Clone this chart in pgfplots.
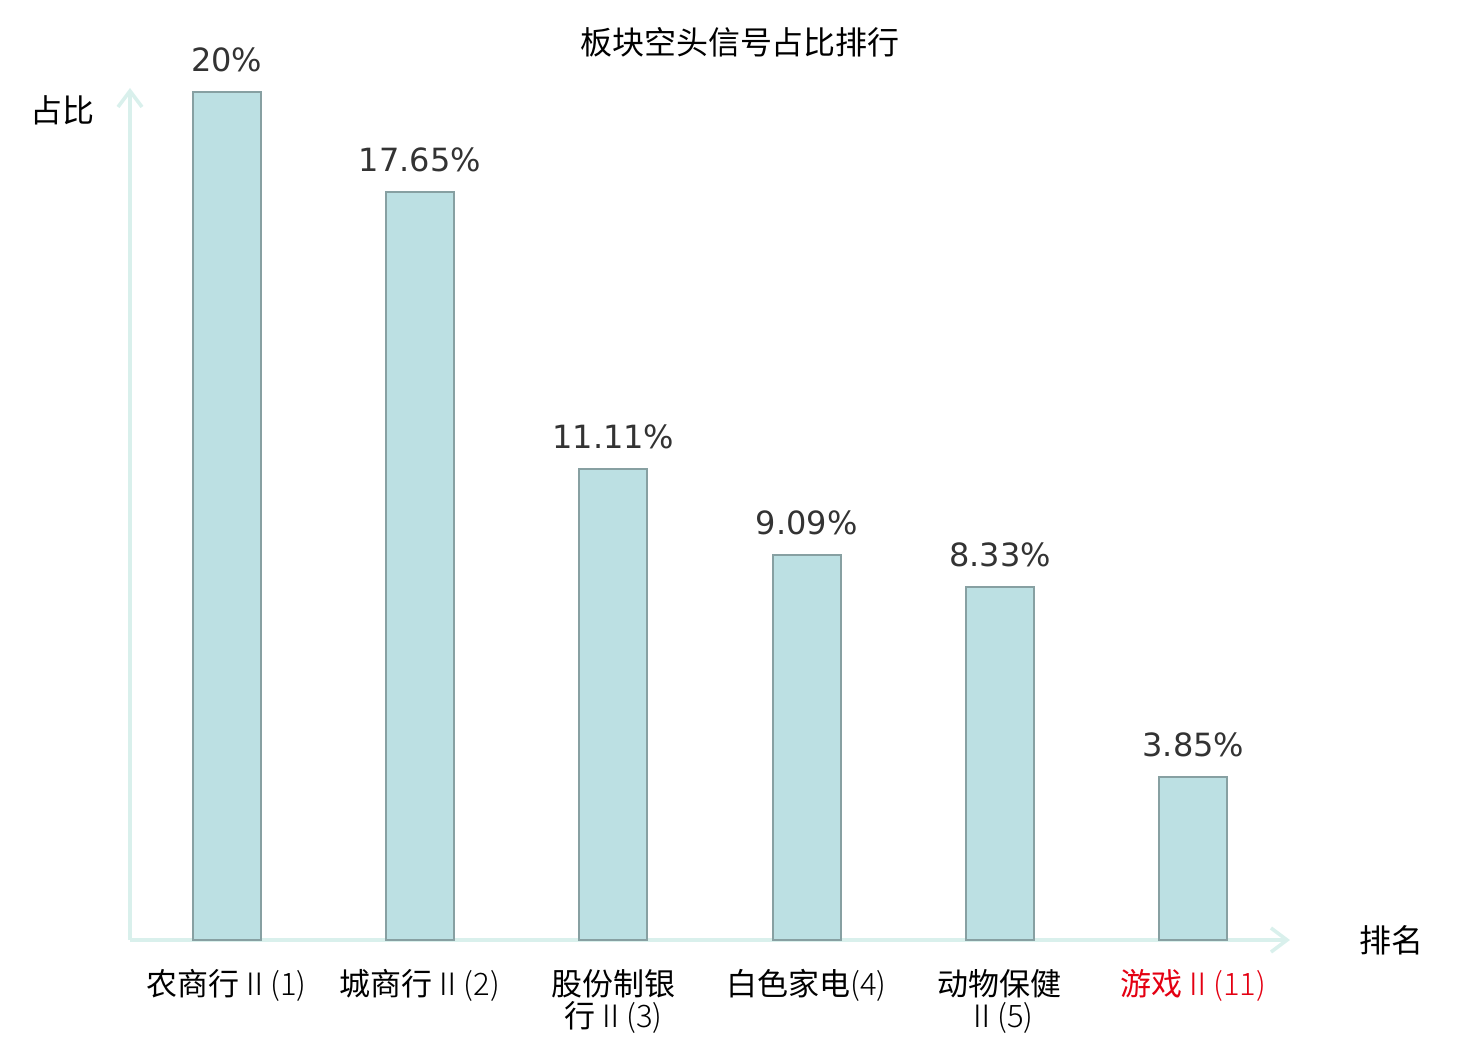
\documentclass[border=0pt]{standalone}
\usepackage{fontspec}
\setmainfont{DejaVu Sans}
\newfontfamily\cjk{Noto Sans CJK SC}
\newfontfamily\cjkl{Noto Sans CJK SC Light}
\usepackage{pgfplots}
\pgfplotsset{compat=1.18}
\usetikzlibrary{arrows.meta}
\definecolor{barfill}{RGB}{188,224,227}
\definecolor{bardraw}{RGB}{135,160,162}
\definecolor{axiscol}{RGB}{217,240,236}
\definecolor{valcol}{RGB}{51,51,51}
\definecolor{redlab}{RGB}{228,0,18}
\newcommand{\lt}[1]{{\cjkl #1}}
\begin{document}
\begin{tikzpicture}[x=1pt,y=1pt]
\useasboundingbox (-65,-50) rectangle (675,470);
\begin{axis}[
  at={(0,0)}, anchor=south west,
  scale only axis,
  width=580pt, height=426pt,
  xmin=-0.5, xmax=5.5,
  ymin=0, ymax=20.1,
  axis lines=left,
  axis line style={draw=axiscol, line width=1.8pt},
  x axis line style={-{Straight Barb[length=8pt,width=12pt,line width=1.8pt]}},
  y axis line style={-{Straight Barb[length=8pt,width=12pt,line width=1.8pt]}},
  xtick=data,
  xticklabels={{农商行\lt{Ⅱ(1)}},{城商行\lt{Ⅱ(2)}},{股份制银\\行\lt{Ⅱ(3)}},{白色家电\lt{(4)}},{动物保健\\\lt{Ⅱ(5)}},{\color{redlab}游戏\lt{Ⅱ(11)}}},
  xticklabel style={font=\cjk\fontsize{15.5}{16}\selectfont, align=center, anchor=north, yshift=-11pt},
  ytick=\empty,
  major tick length=0pt,
  bar width=34pt,
  nodes near coords,
  point meta=explicit symbolic,
  every node near coord/.append style={font=\fontsize{16}{17}\selectfont, text=valcol, anchor=south, inner sep=0pt, yshift=9.5pt},
  clip=false,
]
\addplot[ybar, fill=barfill, draw=bardraw, line width=1pt] coordinates {
  (0,20) [20\%]
  (1,17.65) [17.65\%]
  (2,11.11) [11.11\%]
  (3,9.09) [9.09\%]
  (4,8.33) [8.33\%]
  (5,3.85) [3.85\%]
};
\end{axis}
\node[font=\cjk\fontsize{16}{17}\selectfont] at (305,449) {板块空头信号占比排行};
\node[font=\cjk\fontsize{16}{17}\selectfont] at (-33.5,415) {占比};
\node[font=\cjk\fontsize{16}{17}\selectfont] at (630.5,0) {排名};
\end{tikzpicture}
\end{document}
